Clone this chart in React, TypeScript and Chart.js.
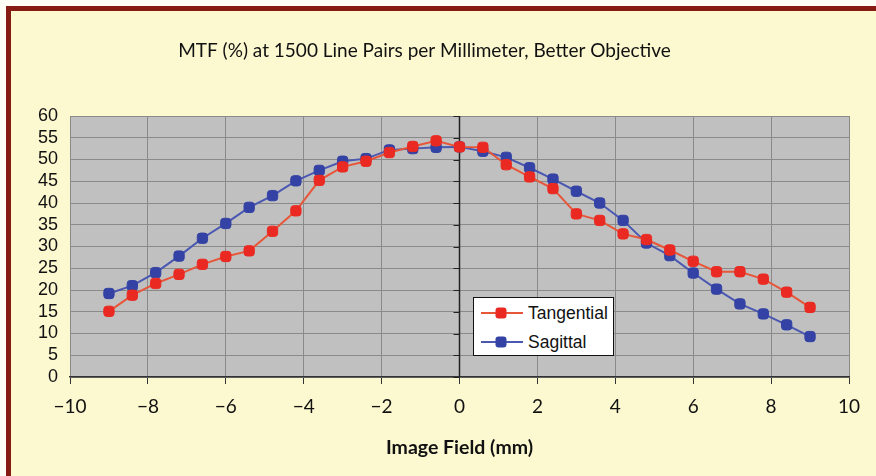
import React, { useEffect, useRef } from "react";
import { Chart, registerables } from "chart.js";

Chart.register(...registerables);

const TITLE = "MTF (%) at 1500 Line Pairs per Millimeter, Better Objective";
const X_TITLE = "Image Field (mm)";
const imageField = [-9, -8.4, -7.8, -7.2, -6.6, -6, -5.4, -4.8, -4.2, -3.6, -3, -2.4, -1.8, -1.2, -0.6, 0, 0.6, 1.2, 1.8, 2.4, 3, 3.6, 4.2, 4.8, 5.4, 6, 6.6, 7.2, 7.8, 8.4, 9];
const tangential = [15.1, 18.8, 21.5, 23.6, 25.9, 27.7, 29.0, 33.5, 38.2, 45.2, 48.3, 49.6, 51.6, 53.0, 54.3, 52.9, 52.8, 48.8, 46.0, 43.3, 37.5, 36.0, 32.9, 31.6, 29.2, 26.6, 24.2, 24.2, 22.5, 19.5, 16.0];
const sagittal = [19.2, 21.0, 24.0, 27.8, 31.9, 35.3, 39.0, 41.7, 45.1, 47.5, 49.6, 50.2, 52.2, 52.5, 52.8, 52.9, 51.9, 50.5, 48.1, 45.5, 42.7, 40.0, 36.0, 30.8, 27.9, 23.9, 20.2, 16.8, 14.5, 12.0, 9.3];
const seriesNames = ["Tangential", "Sagittal"];
const lineColors = ["#e8563a", "#4a58b2"];
const markerColors = ["#ea2a22", "#3342a4"];

const bgPlugin = {
  id: "plotBg",
  beforeDraw(chart: any) {
    const { ctx, chartArea } = chart;
    ctx.save();
    ctx.fillStyle = "#c0c0c0";
    ctx.fillRect(chartArea.left, chartArea.top, chartArea.right - chartArea.left, chartArea.bottom - chartArea.top);
    ctx.restore();
  },
};

const zeroAxisPlugin = {
  id: "zeroAxis",
  beforeDatasetsDraw(chart: any) {
    const { ctx, chartArea, scales } = chart;
    const x0 = scales.x.getPixelForValue(0);
    ctx.save();
    ctx.strokeStyle = "#222";
    ctx.lineWidth = 1.5;
    ctx.beginPath();
    ctx.moveTo(x0, chartArea.top);
    ctx.lineTo(x0, chartArea.bottom);
    ctx.stroke();
    ctx.lineWidth = 1;
    scales.y.ticks.forEach((t: any) => {
      const y = Math.round(scales.y.getPixelForValue(t.value)) + 0.5;
      ctx.beginPath();
      ctx.moveTo(x0 - 6, y);
      ctx.lineTo(x0, y);
      ctx.stroke();
    });
    ctx.restore();
  },
};

function Swatch({ i }: { i: number }) {
  return (
    <svg width={44} height={14} style={{ display: "block" }}>
      <line x1={1} y1={7} x2={43} y2={7} stroke={lineColors[i]} strokeWidth={2} />
      <rect x={15.5} y={1.5} width={11} height={11} rx={3} fill={markerColors[i]} />
    </svg>
  );
}

export default function App() {
  const ref = useRef<HTMLCanvasElement>(null);
  useEffect(() => {
    const chart = new Chart(ref.current as HTMLCanvasElement, {
      type: "scatter",
      data: {
        datasets: [tangential, sagittal].map((vals, i) => ({
          label: seriesNames[i],
          data: imageField.map((x, k) => ({ x, y: vals[k] })),
          showLine: true,
          borderColor: lineColors[i],
          borderWidth: 2,
          backgroundColor: markerColors[i],
          pointBackgroundColor: markerColors[i],
          pointBorderColor: markerColors[i],
          pointBorderWidth: 1,
          pointStyle: "rectRounded",
          pointRadius: 6,
          tension: 0,
        })),
      },
      options: {
        animation: false,
        responsive: true,
        maintainAspectRatio: false,
        layout: { padding: { left: 0, right: 27, top: 0, bottom: 0 } },
        plugins: {
          legend: { display: false },
          tooltip: { enabled: false },
          title: {
            display: true,
            text: TITLE,
            color: "#111",
            font: { family: "Lato", size: 19, weight: "normal" },
            padding: { top: 39, bottom: 54.2 },
          },
        },
        scales: {
          x: {
            type: "linear",
            min: -10,
            max: 10,
            afterFit: (s: any) => { s.height = 99; },
            ticks: {
              stepSize: 2,
              color: "#111",
              padding: 11,
              autoSkip: false,
              font: { family: "Lato", size: 19 },
              callback: (v: any) => (Number(v) < 0 ? "\u2212" + Math.abs(Number(v)) : String(v)),
            },
            grid: {
              color: "#8a8a8a",
              lineWidth: 1,
              drawTicks: true,
              tickLength: 7,
              tickColor: "#333",
            },
            border: { display: true, color: "#333", width: 1.5 },
            title: {
              display: true,
              text: X_TITLE,
              color: "#111",
              font: { family: "Lato", size: 19.5, weight: "bold" },
              padding: { top: 0, bottom: 17 },
            },
          },
          y: {
            min: 0,
            max: 60,
            afterFit: (s: any) => { s.width = 70; },
            ticks: {
              stepSize: 5,
              autoSkip: false,
              color: "#111",
              padding: 12,
              font: { family: "Liberation Sans", size: 18 },
            },
            grid: { color: "#8a8a8a", lineWidth: 1, drawTicks: false },
            border: { display: false },
          },
        },
      },
      plugins: [bgPlugin, zeroAxisPlugin],
    });
    return () => chart.destroy();
  }, []);

  return (
    <div style={{ position: "fixed", left: 0, top: 0, width: 876, height: 476, overflow: "hidden", background: "#fdfdf6" }}>
      <div
        style={{
          position: "absolute",
          left: 6,
          top: 6,
          width: 900,
          height: 500,
          borderTop: "5px solid #851b12",
          borderLeft: "5px solid #851b12",
          background: "#fcf8d0",
        }}
      />
      <div style={{ position: "absolute", left: 0, top: 0, width: 876, height: 476 }}>
        <canvas ref={ref} />
      </div>
      <div
        style={{
          position: "absolute",
          left: 473,
          top: 297,
          width: 139,
          height: 57,
          background: "#fff",
          border: "1px solid #111",
          fontFamily: "Liberation Sans",
          fontSize: 17.5,
          color: "#111",
        }}
      >
        {seriesNames.map((n, i) => (
          <div key={n} style={{ position: "absolute", left: 6, top: i === 0 ? 5 : 34, height: 20, display: "flex", alignItems: "center" }}>
            <Swatch i={i} />
            <span style={{ marginLeft: 4, lineHeight: "20px" }}>{n}</span>
          </div>
        ))}
      </div>
    </div>
  );
}
